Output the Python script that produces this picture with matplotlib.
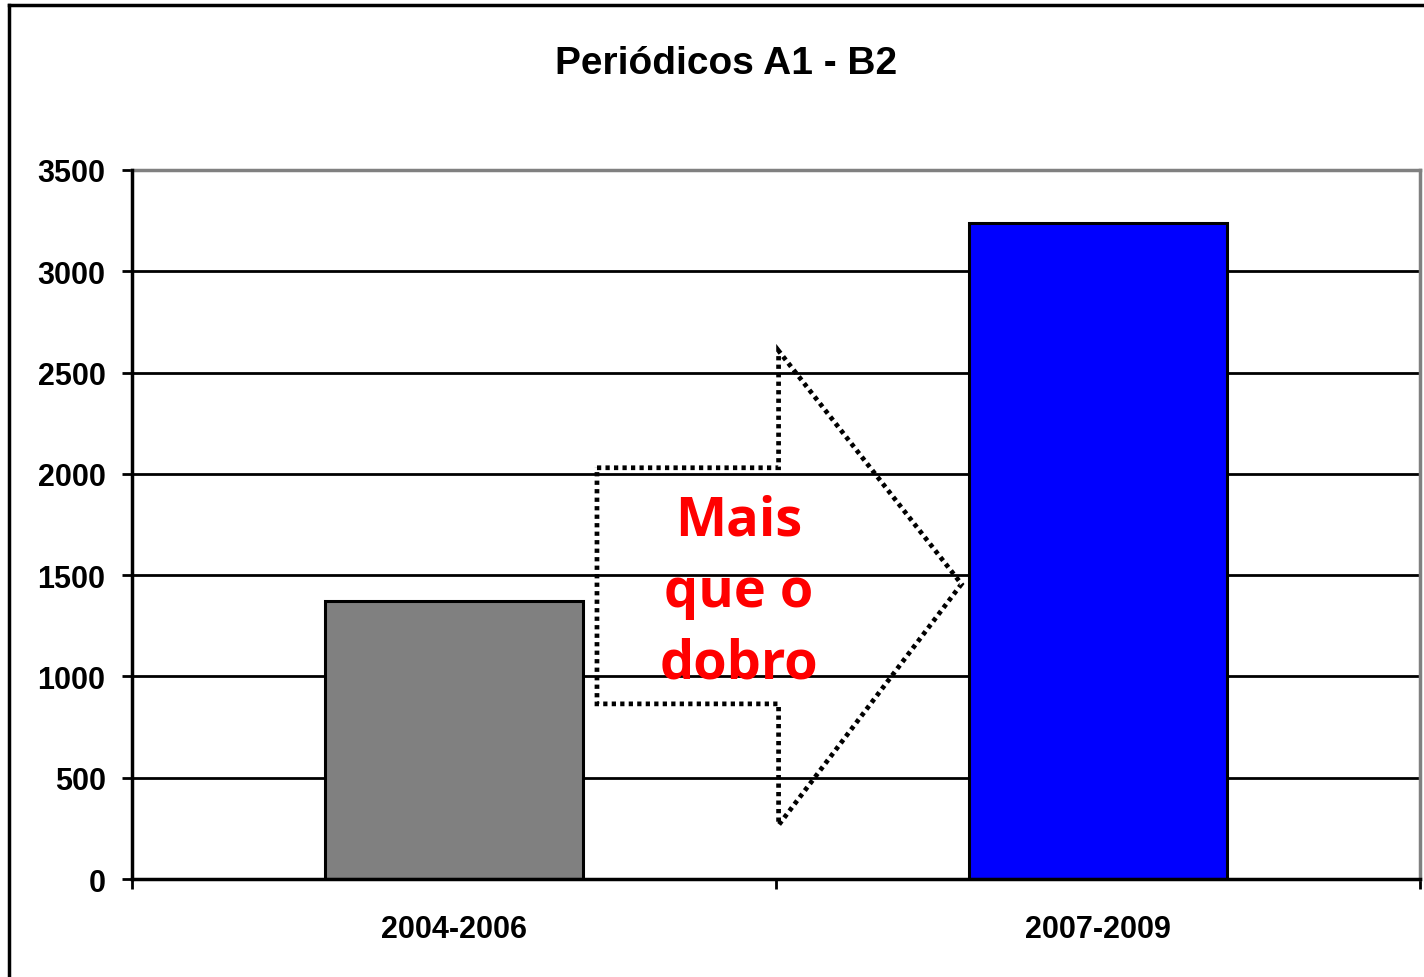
import matplotlib.pyplot as plt
from matplotlib.patches import Polygon
from matplotlib.lines import Line2D

# data
periods = ['2004-2006', '2007-2009']
counts = [1370, 3240]
bar_colors = ['#808080', '#0000ff']
y_ticks = [0, 500, 1000, 1500, 2000, 2500, 3000, 3500]
title = 'Periódicos A1 - B2'
note = 'Mais\nque o\ndobro'

fig = plt.figure(figsize=(14.24, 9.78), dpi=100)
ax = fig.add_axes([0.0927, 0.1002, 0.9045, 0.725])

x = range(len(periods))
ax.bar(x, counts, width=0.4, color=bar_colors, edgecolor='black', linewidth=2.2, zorder=3)

ax.set_xlim(-0.5, 1.5)
ax.set_ylim(0, 3500)
ax.set_yticks(y_ticks)
ax.set_yticklabels([str(v) for v in y_ticks], fontsize=22, fontweight='bold',
                   family='Liberation Sans')
ax.set_xticks([-0.5, 0.5, 1.5], minor=False)
ax.set_xticklabels([])
ax.set_xticks(list(x), minor=True)
ax.set_xticklabels(periods, minor=True, fontsize=22, fontweight='bold',
                   family='Liberation Sans')
ax.tick_params(axis='x', which='minor', length=0, pad=25)
ax.tick_params(axis='x', which='major', length=7, width=2, direction='out')
ax.tick_params(axis='y', length=7, width=2, direction='out', pad=12)

ax.grid(axis='y', color='black', linewidth=2, zorder=1)
ax.set_axisbelow(True)
for s in ['left', 'bottom']:
    ax.spines[s].set_color('black')
    ax.spines[s].set_linewidth(2.5)
    ax.spines[s].set_zorder(4)
for s in ['top', 'right']:
    ax.spines[s].set_color('#808080')
    ax.spines[s].set_linewidth(2.5)

# dotted block arrow
arrow_pts = [(0.361, 0.580), (0.502, 0.580), (0.502, 0.745), (0.644, 0.416),
             (0.502, 0.076), (0.502, 0.247), (0.361, 0.247)]
ax.add_patch(Polygon(arrow_pts, closed=True, transform=ax.transAxes, fill=False,
                     edgecolor='black', linewidth=3.4, linestyle=(0, (0.9, 0.9)), zorder=5))

ax.text(0.471, 0.405, note, transform=ax.transAxes, ha='center', va='center',
        color='red', fontsize=39, fontweight='bold', family='Open Sans',
        linespacing=1.42, zorder=6)

fig.text(0.51, 0.935, title, ha='center', va='center', fontsize=28,
         fontweight='bold', family='Liberation Sans')

# outer frame (left and top edges)
fig.add_artist(Line2D([0.0065, 0.0065], [0, 0.994], transform=fig.transFigure,
                      color='black', linewidth=2.5))
fig.add_artist(Line2D([0.0065, 1], [0.994, 0.994], transform=fig.transFigure,
                      color='black', linewidth=2.5))

fig.savefig('out.png', dpi=100)
